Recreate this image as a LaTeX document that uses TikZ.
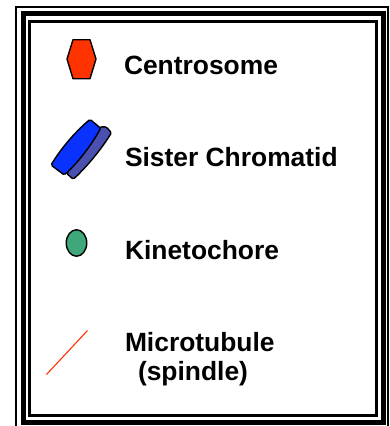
\documentclass[tikz,border=0pt]{standalone}
\usepackage{fontspec}
\setmainfont{Liberation Sans}
\usepackage{tikz}
\usetikzlibrary{positioning, shapes.geometric, calc}
\definecolor{centrored}{HTML}{FF3300}
\definecolor{chromablue}{HTML}{0A32FF}
\definecolor{chromaback}{HTML}{4A50B0}
\definecolor{kinetgreen}{HTML}{3FA87A}
\tikzset{%
   legendtext/.style={
      font=\fontsize{26.4}{30}\selectfont\bfseries,
      inner sep=0pt,
      outer sep=0pt,
      anchor=west
   },
   frameline/.style={
      draw=black,
      line join=miter
   },
   part/.style={
      draw=black,
      line width=1.4pt,
      line join=round
   },
   kinetdot/.style={
      ellipse,
      part,
      fill=kinetgreen,
      inner sep=0pt,
      minimum width=20.5pt,
      minimum height=26.5pt
   }
}
\begin{document}
\begin{tikzpicture}[x=1pt, y=-1pt]
\useasboundingbox (0,0) rectangle (390,426);
% frame
\draw[frameline, line width=1.7pt] (16.2,7) rectangle (388.2,430);
\draw[frameline, line width=5.2pt] (23.3,13.8) rectangle (383.2,422.2);
\draw[frameline, line width=2.4pt] (29.3,21.3) rectangle (376.4,415.6);
% centrosome
\draw[part, fill=centrored] (73,39.7) -- (90,39.7) -- (96,59) -- (90,78.7) -- (73,78.7) -- (67,59) -- cycle;
% sister chromatid
\draw[part, fill=chromaback, rounded corners=1.5pt] (100,127) -- (106,126.7) -- (111.5,132.7)
   .. controls (100.8,149.8) and (88,165.4) .. (73.3,179.3) -- (66.7,173.5) -- cycle;
\draw[part, fill=chromablue, rounded corners=1.5pt] (51,165) .. controls (61.5,147.8) and (74.5,132.7) .. (90,119.3)
   -- (100.7,128.3) .. controls (90.8,145.8) and (78.6,162) .. (64.3,175) -- cycle;
% kinetochore
\node[kinetdot] (kinet) at (76.5,243) {};
% microtubule
\coordinate (mtstart) at (46.5,374.5);
\coordinate (mtend) at (87.5,330.5);
\draw[centrored, line width=1.1pt] (mtstart) -- (mtend);
% labels
\node[legendtext] (centro) at (124,65) {Centrosome};
\node[legendtext] (sister) at (125,157) {Sister Chromatid};
\node[legendtext] (kinetlabel) at (125,250) {Kinetochore};
\node[legendtext] (micro) at (125,342) {Microtubule};
\node[legendtext, anchor=base west] (spindle) at ($(micro.base west)+(13,29)$) {(spindle)};
\end{tikzpicture}
\end{document}
